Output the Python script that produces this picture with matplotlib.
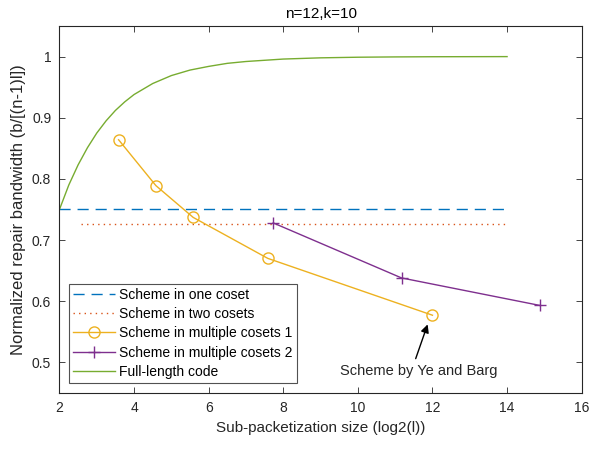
import matplotlib
matplotlib.use("Agg")
import matplotlib.pyplot as plt

plt.rcParams['font.family'] = ['Liberation Sans', 'DejaVu Sans']

# Data (x = log2(l))
one_coset_x = [2, 14]
one_coset_y = [0.75, 0.75]
two_cosets_x = [2.585, 14]
two_cosets_y = [0.727, 0.727]
multi1_x = [3.585, 4.585, 5.585, 7.585, 12.0]
multi1_y = [0.864, 0.789, 0.737, 0.670, 0.577]
multi2_x = [7.73, 11.17, 14.88]
multi2_y = [0.728, 0.638, 0.593]
full_x = [2.0, 2.25, 2.5, 2.75, 3.0, 3.25, 3.5, 3.75, 4.0, 4.5, 5.0, 5.5, 6.0,
          6.5, 7.0, 7.5, 8.0, 9.0, 10.0, 11.0, 12.0, 13.0, 14.0]
full_y = [0.750, 0.790, 0.823, 0.851, 0.875, 0.895, 0.912, 0.926, 0.938, 0.956,
          0.969, 0.978, 0.984, 0.989, 0.992, 0.994, 0.996, 0.998, 0.999, 0.9995,
          0.9998, 0.9999, 1.0]

fig = plt.figure(figsize=(5.93, 4.49), dpi=100)
ax = fig.add_axes([0.1003, 0.125, 0.8806, 0.817])

ax.plot(one_coset_x, one_coset_y, linestyle=(0, (8, 5)), color='#0072BD', lw=1.0,
        label='Scheme in one coset')
ax.plot(two_cosets_x, two_cosets_y, linestyle=(0, (1, 3)), color='#D95319', lw=1.0,
        label='Scheme in two cosets')
ax.plot(multi1_x, multi1_y, '-o', color='#EDB120', lw=1.0, ms=8, mfc='none', mew=1.0,
        label='Scheme in multiple cosets 1')
ax.plot(multi2_x, multi2_y, '-+', color='#7E2F8E', lw=1.0, ms=9, mew=1.0,
        label='Scheme in multiple cosets 2')
ax.plot(full_x, full_y, '-', color='#77AC30', lw=1.0, label='Full-length code')

ax.set_xlim(2, 16)
ax.set_ylim(0.45, 1.05)
ax.set_xticks([2, 4, 6, 8, 10, 12, 14, 16])
ax.set_yticks([0.5, 0.6, 0.7, 0.8, 0.9, 1.0])
ax.set_yticklabels(['0.5', '0.6', '0.7', '0.8', '0.9', '1'])
ax.tick_params(direction='in', length=4, width=0.6, labelsize=10, colors='#262626',
               top=True, right=True, pad=6)
for s in ax.spines.values():
    s.set_linewidth(0.8)
    s.set_color('#262626')

ax.set_xlabel('Sub-packetization size (log2(l))', fontsize=11, color='#262626')
ax.set_ylabel('Normalized repair bandwidth (b/[(n-1)l])', fontsize=12, color='#262626')
ax.set_title('n=12,k=10', fontsize=11, color='#000000', pad=6)

ax.annotate('', xy=(11.87, 0.562), xytext=(11.55, 0.506),
            arrowprops=dict(arrowstyle='-|>', color='black', lw=1.0,
                            mutation_scale=12, shrinkA=0, shrinkB=0))
ax.text(11.62, 0.485, 'Scheme by Ye and Barg', ha='center', va='center',
        fontsize=10.5, color='#262626')

leg = ax.legend(loc='lower left', bbox_to_anchor=(0.018, 0.027), fontsize=10,
                frameon=True, fancybox=False, edgecolor='#262626',
                borderpad=0.3, labelspacing=0.38, handlelength=3.0,
                handletextpad=0.3, borderaxespad=0)
leg.get_frame().set_linewidth(0.8)

fig.savefig('out.png', dpi=100)
